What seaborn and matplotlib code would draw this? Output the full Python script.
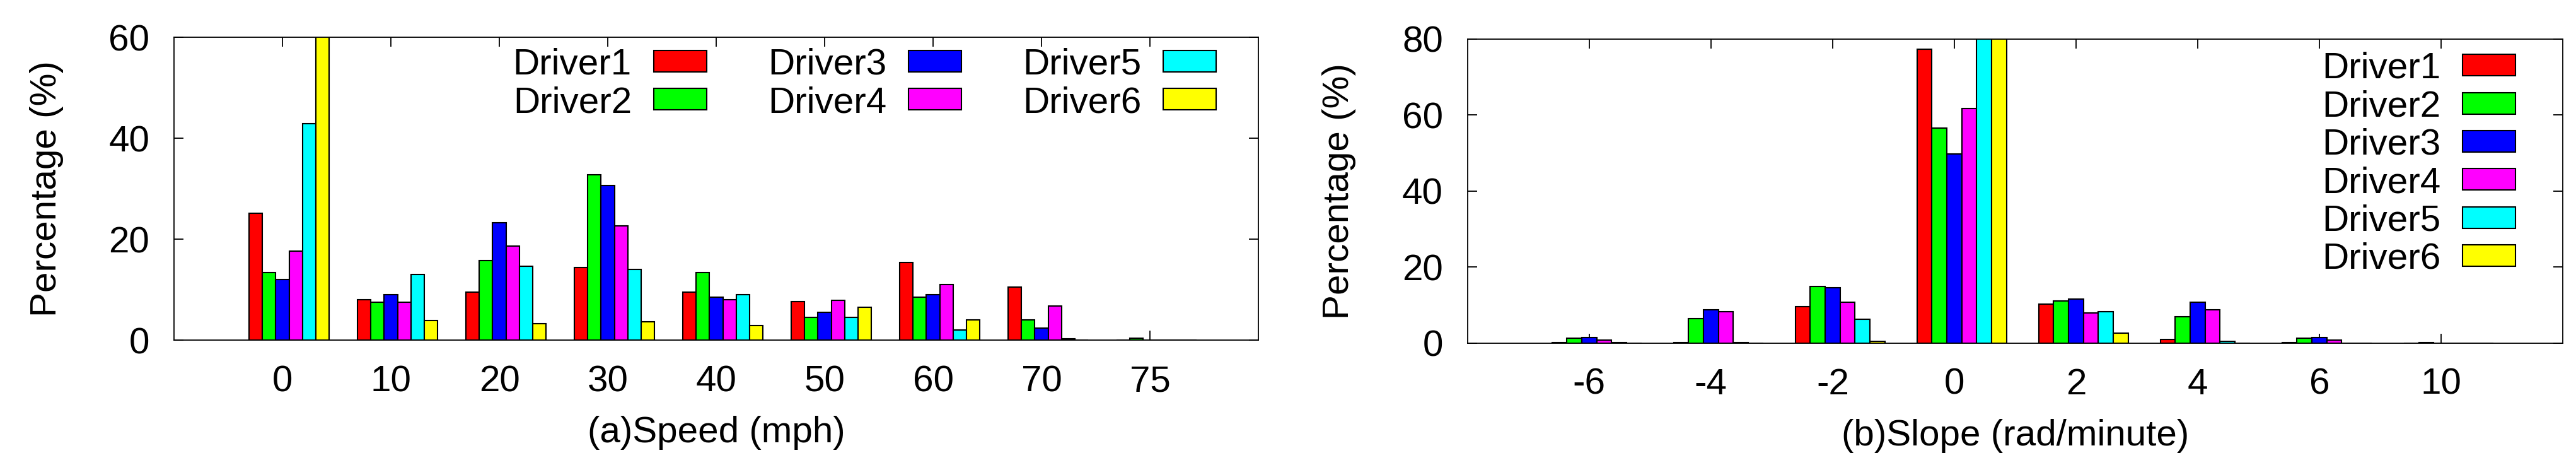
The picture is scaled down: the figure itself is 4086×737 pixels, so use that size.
import numpy as np
import pandas as pd
import seaborn as sns
import matplotlib.pyplot as plt
from matplotlib.patches import Patch

sns.set_theme(style="white")
plt.rcParams['font.family'] = ['Liberation Sans', 'DejaVu Sans']
plt.rcParams['text.color'] = 'black'
plt.rcParams['axes.labelcolor'] = 'black'

# dane
drivers = ['Driver1', 'Driver2', 'Driver3', 'Driver4', 'Driver5', 'Driver6']
colors = ['#ff0000', '#00ff00', '#0000ff', '#ff00ff', '#00ffff', '#ffff00']

speed_bins = ['0', '10', '20', '30', '40', '50', '60', '70', '75']
speed_d1 = [25.2, 8.1, 9.5, 14.4, 9.5, 7.7, 15.4, 10.6, 0.1]
speed_d2 = [13.4, 7.6, 15.8, 32.8, 13.4, 4.6, 8.6, 4.0, 0.4]
speed_d3 = [12.0, 9.0, 23.3, 30.7, 8.6, 5.5, 9.1, 2.4, 0.0]
speed_d4 = [17.7, 7.5, 18.7, 22.7, 8.1, 7.9, 11.1, 6.8, 0.0]
speed_d5 = [42.9, 13.0, 14.7, 14.1, 9.0, 4.5, 2.0, 0.3, 0.0]
speed_d6 = [66.0, 3.9, 3.3, 3.7, 2.9, 6.5, 4.0, 0.0, 0.0]

slope_bins = ['-6', '-4', '-2', '0', '2', '4', '6', '10']
slope_d1 = [0.1, 0.1, 9.6, 77.3, 10.2, 0.9, 0.1, 0.0]
slope_d2 = [1.2, 6.5, 14.9, 56.6, 11.0, 6.9, 1.2, 0.1]
slope_d3 = [1.5, 8.8, 14.6, 49.8, 11.5, 10.7, 1.5, 0.0]
slope_d4 = [0.7, 8.2, 10.8, 61.7, 7.9, 8.7, 0.7, 0.0]
slope_d5 = [0.1, 0.1, 6.2, 85.0, 8.2, 0.5, 0.0, 0.0]
slope_d6 = [0.0, 0.0, 0.5, 90.0, 2.6, 0.0, 0.0, 0.0]

BAR_W = 0.1225
FS = 42


def to_long(bins, series):
    rows = []
    for drv, vals in zip(drivers, series):
        for b, v in zip(bins, vals):
            rows.append({'bin': b, 'driver': drv, 'pct': v})
    return pd.DataFrame(rows)


def draw_panel(ax, bins, series, ymax, yticks, xlabel):
    df = to_long(bins, series)
    sns.barplot(data=df, x='bin', y='pct', hue='driver', order=bins,
                hue_order=drivers, palette=colors, width=6 * BAR_W, gap=0,
                edgecolor='black', linewidth=1.5, saturation=1,
                errorbar=None, legend=False, ax=ax)
    n = len(bins)
    # tick gnuplota wypada na środku trzeciego słupka
    ax.set_xticks(np.arange(n) - BAR_W / 2, labels=bins)
    ax.set_xlim(-1 - BAR_W / 2, n - BAR_W / 2)
    ax.set_ylim(0, ymax)
    ax.set_yticks(yticks)
    ax.tick_params(direction='in', length=11, width=1.3, colors='black',
                   labelsize=FS, pad=28, top=True, right=True,
                   bottom=True, left=True)
    for sp in ax.spines.values():
        sp.set_color('black')
        sp.set_linewidth(1.3)
    ax.set_ylabel('Percentage (%)', fontsize=FS)
    ax.yaxis.set_label_coords(-0.1175, 0.5)
    ax.yaxis.label.set_verticalalignment('center')
    ax.set_xlabel(xlabel, fontsize=FS)
    ax.xaxis.set_label_coords(0.5, -0.3055)
    ax.xaxis.label.set_verticalalignment('center')


fig = plt.figure(figsize=(40.86, 7.37), dpi=100)
ax1 = fig.add_axes([0.06755, 0.2681, 0.42095, 0.6514])
ax2 = fig.add_axes([0.5697, 0.2623, 0.42516, 0.6541])

draw_panel(ax1, speed_bins,
           [speed_d1, speed_d2, speed_d3, speed_d4, speed_d5, speed_d6],
           60, [0, 20, 40, 60], '(a)Speed (mph)')
draw_panel(ax2, slope_bins,
           [slope_d1, slope_d2, slope_d3, slope_d4, slope_d5, slope_d6],
           80, [0, 20, 40, 60, 80], '(b)Slope (rad/minute)')

handles = [Patch(facecolor=c, edgecolor='black', linewidth=1.5, label=d)
           for d, c in zip(drivers, colors)]
leg_kw = dict(frameon=False, markerfirst=False, fontsize=FS,
              handlelength=1.44, handleheight=0.52, handletextpad=0.6,
              labelspacing=0.11, borderpad=0, borderaxespad=0,
              loc='upper left')
ax1.legend(handles=handles, ncol=3, columnspacing=1.66,
           bbox_to_anchor=(0.3126, 0.966), **leg_kw)
ax2.legend(handles=handles, ncol=1, bbox_to_anchor=(0.780, 0.958), **leg_kw)

plt.savefig('out.png', dpi=100)
plt.close()
